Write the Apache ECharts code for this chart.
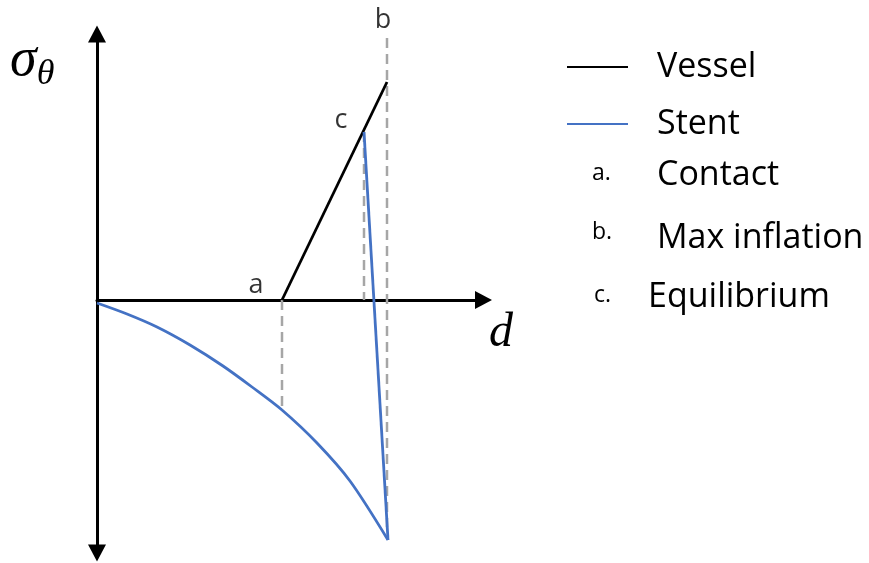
<!DOCTYPE html>
<html>
<head>
<meta charset="utf-8">
<title>Vessel and stent hoop stress</title>
<script src="https://cdn.jsdelivr.net/npm/echarts@6/dist/echarts.min.js"></script>
<style>
  html, body { margin: 0; padding: 0; background: #fff; }
  #chart { width: 869px; height: 563px; }
</style>
</head>
<body>
<div id="chart"></div>
<script>
// Hoop stress (sigma_theta) against diameter d for a vessel and a stent.
const vesselD = [185, 290];
const vesselSigma = [0, 218];

const stentCurveD = [0, 30, 60, 93, 126, 155, 185, 220, 253, 291];
const stentCurveSigma = [-3, -14, -27, -45, -66, -87, -110, -143, -181, -240];

const stentRecoilD = [291, 267];
const stentRecoilSigma = [-240, 168];

// vertical guides at contact (a), equilibrium (c) and max inflation (b)
const guideA = { d: [185, 185], sigma: [0, -110] };
const guideC = { d: [267, 267], sigma: [168, 0] };
const guideB = { d: [290, 290], sigma: [262, -227] };

const pointNames = ['a', 'b', 'c'];
const pointD = [185, 290, 267];
const pointSigma = [0, 262, 168];

const notes = [
  { key: 'a.', text: 'Contact' },
  { key: 'b.', text: 'Max inflation' },
  { key: 'c.', text: 'Equilibrium' }
];

const zip = (xs, ys) => xs.map((x, i) => [x, ys[i]]);

const sansFont = '"Open Sans", "Noto Sans", sans-serif';
const mathFont = '"Liberation Serif", "DejaVu Serif", serif';
const guideStyle = { color: '#a6a6a6', width: 2.5, type: [10, 6] };

const labelOffsets = { a: [-26, -15], b: [-4, -18], c: [-23, -12] };

const chart = echarts.init(document.getElementById('chart'), null, { renderer: 'canvas' });

chart.setOption({
  animation: false,
  backgroundColor: '#fff',
  grid: { left: 97, top: 34, width: 386.5, height: 519, containLabel: false },
  xAxis: {
    type: 'value', min: 0, max: 386.5,
    axisLine: { show: true, onZero: true, symbol: ['none', 'triangle'], symbolSize: [18, 17],
                lineStyle: { color: '#000', width: 3 } },
    axisTick: { show: false }, axisLabel: { show: false }, splitLine: { show: false }
  },
  yAxis: {
    type: 'value', min: -253, max: 266,
    axisLine: { show: true, onZero: false, symbol: ['triangle', 'triangle'], symbolSize: [18, 17],
                lineStyle: { color: '#000', width: 3 } },
    axisTick: { show: false }, axisLabel: { show: false }, splitLine: { show: false }
  },
  legend: {
    orient: 'vertical', left: 562, top: 42,
    data: ['Vessel', 'Stent'],
    icon: 'rect', itemWidth: 61, itemHeight: 2, itemGap: 17,
    textStyle: { fontFamily: sansFont, fontSize: 34, color: '#000', lineHeight: 40, padding: [0, 0, 0, 24] }
  },
  series: [
    { name: 'guide-a', type: 'line', data: zip(guideA.d, guideA.sigma), showSymbol: false, lineStyle: guideStyle, z: 1 },
    { name: 'guide-c', type: 'line', data: zip(guideC.d, guideC.sigma), showSymbol: false, lineStyle: guideStyle, z: 1 },
    { name: 'guide-b', type: 'line', data: zip(guideB.d, guideB.sigma), showSymbol: false, lineStyle: guideStyle, z: 1, clip: false },
    { name: 'Vessel', type: 'line', data: zip(vesselD, vesselSigma), showSymbol: false,
      itemStyle: { color: '#000' }, lineStyle: { color: '#000', width: 2.8 }, z: 3 },
    { name: 'Stent', type: 'line', data: zip(stentCurveD, stentCurveSigma), smooth: 0.3,
      showSymbol: false,
      itemStyle: { color: '#4472c4' }, lineStyle: { color: '#4472c4', width: 2.8 }, z: 3 },
    { name: 'Stent', type: 'line', data: zip(stentRecoilD, stentRecoilSigma), showSymbol: false,
      itemStyle: { color: '#4472c4' }, lineStyle: { color: '#4472c4', width: 2.8 }, z: 3 },
    { name: 'points', type: 'scatter', symbolSize: 1, clip: false,
      itemStyle: { color: 'rgba(0,0,0,0)' },
      data: pointNames.map((n, i) => ({
        value: [pointD[i], pointSigma[i]],
        label: { show: true, position: 'inside', offset: labelOffsets[n], formatter: n,
                 fontFamily: sansFont, fontSize: 27, color: '#000' }
      })),
      z: 4 }
  ],
  graphic: [
    { type: 'text', left: 10, top: 34,
      style: { text: '{s|σ}{t|θ}', rich: {
        s: { fontFamily: mathFont, fontStyle: 'italic', fontSize: 54, fill: '#000' },
        t: { fontFamily: mathFont, fontStyle: 'italic', fontSize: 36, fill: '#000', padding: [28, 0, 0, 0] }
      } } },
    { type: 'text', left: 489, top: 309,
      style: { text: 'd', fontFamily: mathFont, fontStyle: 'italic', fontSize: 48, fill: '#000' } }
  ].concat(notes.flatMap((n, i) => {
    const ys = [175, 234, 297];
    const keyX = [592, 592, 594];
    const textX = [657, 657, 648];
    const textDy = [0, 4, 0];
    return [
      { type: 'text', x: keyX[i], y: ys[i] - 2,
        style: { text: n.key, fontFamily: sansFont, fontSize: 23, fill: '#000', verticalAlign: 'middle' } },
      { type: 'text', x: textX[i], y: ys[i] + textDy[i],
        style: { text: n.text, fontFamily: sansFont, fontSize: 34, fill: '#000', verticalAlign: 'middle' } }
    ];
  }))
});
</script>
</body>
</html>
